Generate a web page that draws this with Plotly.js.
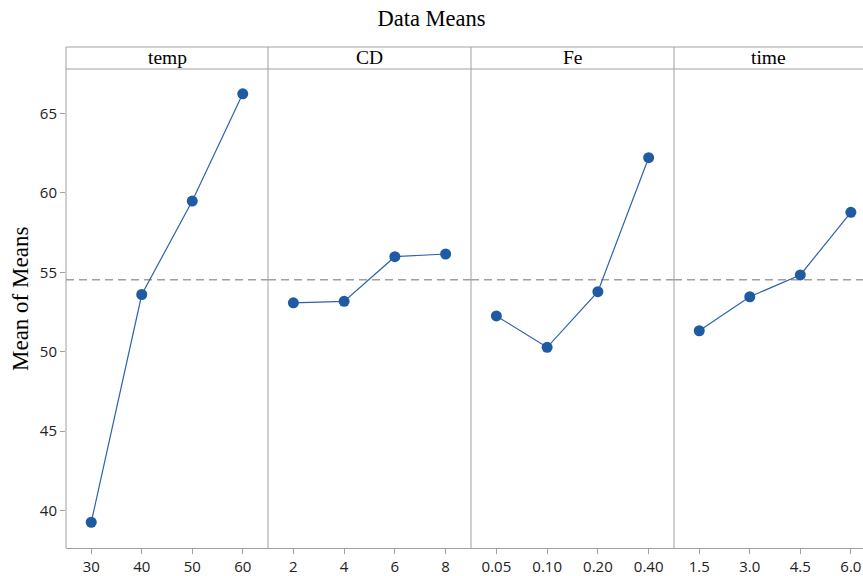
<!DOCTYPE html>
<html>
<head>
<meta charset="utf-8">
<script src="https://cdn.plot.ly/plotly-3.0.1.min.js"></script>
<style>html,body{margin:0;padding:0;background:#fff;}#chart{width:863px;height:576px;}</style>
</head>
<body>
<div id="chart"></div>
<script>
// Factor names and levels
const factors = ["temp", "CD", "Fe", "time"];
const tempLevels = ["30", "40", "50", "60"];
const cdLevels = ["2", "4", "6", "8"];
const feLevels = ["0.05", "0.10", "0.20", "0.40"];
const timeLevels = ["1.5", "3.0", "4.5", "6.0"];
// Means
const tempMeans = [39.27, 53.60, 59.48, 66.23];
const cdMeans = [53.08, 53.17, 55.98, 56.15];
const feMeans = [52.25, 50.28, 53.78, 62.21];
const timeMeans = [51.32, 53.46, 54.83, 58.77];
const grandMean = 54.53;
const yTicks = [40, 45, 50, 55, 60, 65];

const levels = [tempLevels, cdLevels, feLevels, timeLevels];
const means = [tempMeans, cdMeans, feMeans, timeMeans];

const W = 863, H = 576, ml = 66, mr = 0, mt = 69, mb = 28;
const pw = W - ml - mr, ph = H - mt - mb;
const edges = [66, 268, 471, 674, 863].map(p => (p - ml) / pw);
const hdr = 1 + 22 / ph;
const gray = "#a0a0a0";
const blue = "#1f5aa3";
const tickFont = {family: "Open Sans, Noto Sans, sans-serif", size: 15, color: "#222"};
const serif = "Liberation Serif, Times New Roman, serif";

const traces = [];
const layout = {
  width: W, height: H,
  margin: {l: ml, r: mr, t: mt, b: mb},
  paper_bgcolor: "#fff", plot_bgcolor: "#fff",
  showlegend: false,
  title: {text: "Data Means", font: {family: serif, size: 22.5, color: "#000"},
          x: 0.5, xref: "container", y: 1 - 18 / H, yref: "container", yanchor: "middle"},
  yaxis: {range: [37.65, 67.79], tickvals: yTicks, ticks: "outside", ticklen: 5, tickcolor: gray,
          tickfont: tickFont, showgrid: false, zeroline: false, showline: false, anchor: "x"},
  shapes: [], annotations: []
};

for (let i = 0; i < 4; i++) {
  const xa = i === 0 ? "x" : "x" + (i + 1);
  const key = i === 0 ? "xaxis" : "xaxis" + (i + 1);
  traces.push({
    x: levels[i], y: means[i], xaxis: xa, yaxis: "y", type: "scatter", mode: "lines+markers",
    line: {color: "#2d62ad", width: 1.2}, marker: {color: blue, size: 11}, cliponaxis: false
  });
  layout[key] = {
    domain: [edges[i], edges[i + 1]], type: "category", anchor: "y",
    categoryorder: "array", categoryarray: levels[i],
    range: i === 3 ? [-0.5, 3.24] : [-0.5, 3.5],
    ticks: "outside", ticklen: 5, tickcolor: gray, tickfont: tickFont,
    showline: true, linecolor: gray, linewidth: 1, showgrid: false, zeroline: false
  };
  // panel left border
  layout.shapes.push({type: "line", xref: "paper", yref: "paper", x0: edges[i], x1: edges[i],
    y0: 0, y1: hdr, line: {color: gray, width: 1}});
  // grand mean reference line
  layout.shapes.push({type: "line", xref: xa + " domain", yref: "y", x0: 0, x1: 1,
    y0: grandMean, y1: grandMean, line: {color: gray, width: 1.5, dash: "8px,5px"}, layer: "below"});
  layout.annotations.push({text: factors[i], xref: "paper", yref: "paper",
    x: (edges[i] + edges[i + 1]) / 2, y: (1 + hdr) / 2, xanchor: "center", yanchor: "middle",
    showarrow: false, font: {family: serif, size: 19.5, color: "#000"}});
}
layout.shapes.push({type: "line", xref: "paper", yref: "paper", x0: 0, x1: 1, y0: 1, y1: 1,
  line: {color: gray, width: 1}});
layout.shapes.push({type: "line", xref: "paper", yref: "paper", x0: 0, x1: 1, y0: hdr, y1: hdr,
  line: {color: gray, width: 1}});
layout.annotations.push({text: "Mean of Means", xref: "paper", yref: "paper",
  x: -(ml - 20) / pw, y: 1 - (299 - mt) / ph, xanchor: "center", yanchor: "middle", textangle: -90,
  showarrow: false, font: {family: serif, size: 23, color: "#000"}});

Plotly.newPlot("chart", traces, layout, {staticPlot: true, displayModeBar: false});
</script>
</body>
</html>
